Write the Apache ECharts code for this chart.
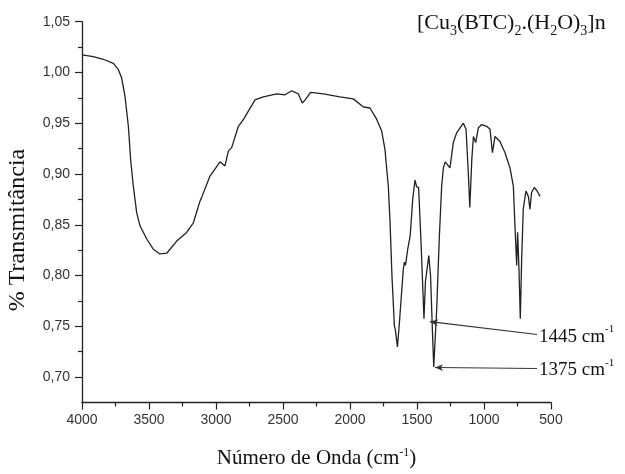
<!DOCTYPE html>
<html>
<head>
<meta charset="utf-8">
<script src="https://cdn.jsdelivr.net/npm/echarts@6/dist/echarts.min.js"></script>
<style>
html,body{margin:0;padding:0;background:#fff;}
#chart{width:625px;height:474px;}
</style>
</head>
<body>
<div id="chart"></div>
<script>
// Wavenumber (cm-1) and transmittance
const wavenumber = [4000,3916,3841,3766,3729,3704,3679,3654,3637,3617,3592,3567,3517,3468,3418,3368,3293,3219,3169,3119,3107,3045,2970,2933,2908,2883,2833,2796,2709,2647,2547,2485,2435,2386,2356,2336,2294,2199,2075,1975,1900,1851,1801,1763,1739,1726,1714,1701,1687,1669,1661,1646,1631,1602,1594,1586,1569,1551,1532,1515,1503,1488,1470,1448,1437,1412,1399,1382,1375,1353,1333,1316,1303,1290,1278,1254,1229,1204,1154,1134,1116,1106,1091,1079,1062,1042,1017,980,955,937,918,881,843,806,781,769,756,749,739,729,719,707,687,669,657,645,625,603,582];
const transmittance = [1.0174,1.0157,1.013,1.009,1.003,0.9945,0.9765,0.947,0.914,0.888,0.862,0.849,0.836,0.826,0.8213,0.822,0.834,0.8425,0.852,0.8735,0.877,0.898,0.912,0.908,0.9225,0.926,0.947,0.9536,0.973,0.976,0.979,0.978,0.982,0.979,0.970,0.9728,0.9804,0.979,0.976,0.974,0.966,0.965,0.954,0.942,0.924,0.905,0.888,0.852,0.800,0.751,0.746,0.7298,0.754,0.8066,0.8132,0.810,0.826,0.839,0.875,0.894,0.8876,0.8866,0.833,0.7576,0.794,0.8196,0.800,0.7347,0.710,0.7674,0.839,0.888,0.906,0.912,0.9128,0.906,0.931,0.9406,0.950,0.944,0.898,0.867,0.9144,0.937,0.931,0.9455,0.9487,0.947,0.944,0.921,0.937,0.932,0.921,0.906,0.888,0.849,0.810,0.8426,0.8066,0.7576,0.8164,0.8654,0.8833,0.878,0.8654,0.8818,0.8867,0.8833,0.878];

const yTickValues = [0.70,0.75,0.80,0.85,0.90,0.95,1.00,1.05];
const yMinorTickValues = [0.725,0.775,0.825,0.875,0.925,0.975,1.025];

// Annotations: label, arrow tip (data coords), line end (data coords)
const annotLabels = ['1445', '1375'];
const annotTips = [[1403, 0.7546], [1366, 0.7095]];
const annotEnds = [[604, 0.742], [604, 0.7085]];

const serif = '"Liberation Serif", "Times New Roman", serif';
const sans = '"Liberation Sans", Arial, sans-serif';

const seriesData = wavenumber.map((w, i) => [w, transmittance[i]]);

const markData = annotLabels.map((lab, i) => [
  { coord: annotTips[i], symbol: 'arrow', symbolSize: [5, 8] },
  { coord: annotEnds[i], symbol: 'none',
    label: { show: true, position: 'end', distance: 2,
      formatter: '{n|' + lab + ' cm}{s|-1}',
      rich: {
        n: { fontFamily: serif, fontSize: 19, color: '#111', lineHeight: 22, padding: [4, 0, 0, 0] },
        s: { fontFamily: serif, fontSize: 11, color: '#111', lineHeight: 12, verticalAlign: 'top' }
      }
    } }
]);

const chart = echarts.init(document.getElementById('chart'), null, { renderer: 'canvas' });
chart.setOption({
  animation: false,
  backgroundColor: '#fff',
  title: {
    left: 412, top: 4,
    text: '{n|[Cu}{b|3}{n|(BTC)}{b|2}{n|.(H}{b|2}{n|O)}{b|3}{n|]n}',
    textStyle: {
      fontWeight: 'normal',
      rich: {
        n: { fontFamily: serif, fontSize: 22, fontWeight: 'normal', color: '#111', lineHeight: 29 },
        b: { fontFamily: serif, fontSize: 14, fontWeight: 'normal', color: '#111', lineHeight: 14, verticalAlign: 'bottom' }
      }
    }
  },
  graphic: [{
    type: 'text', x: 18, y: 230, rotation: Math.PI / 2,
    style: { text: '% Transmitância', font: '24px "Liberation Serif", serif', fill: '#111',
      textAlign: 'center', textVerticalAlign: 'middle' }
  }],
  grid: { left: 82, right: 74, top: 21.7, bottom: 69.5, containLabel: false },
  xAxis: {
    type: 'value', min: 500, max: 4000, interval: 500, inverse: true,
    name: '{n|Número de Onda (cm}{s|-1}{n|)}',
    nameLocation: 'middle', nameGap: 44,
    nameTextStyle: {
      rich: {
        n: { fontFamily: serif, fontSize: 21, color: '#111', lineHeight: 24 },
        s: { fontFamily: serif, fontSize: 12, color: '#111', lineHeight: 14, verticalAlign: 'top' }
      }
    },
    axisLine: { show: true, onZero: false, lineStyle: { color: '#222', width: 1.3 } },
    axisTick: { show: true, inside: false, length: 7, lineStyle: { color: '#222', width: 1.2 } },
    minorTick: { show: true, splitNumber: 2, length: 4, lineStyle: { color: '#222', width: 1.2 } },
    axisLabel: { show: true, margin: 11, color: '#333', fontFamily: sans, fontSize: 14,
      formatter: v => String(v) },
    splitLine: { show: false }
  },
  yAxis: [{
    type: 'value', min: 0.675, max: 1.05,
    axisLine: { show: true, onZero: false, lineStyle: { color: '#222', width: 1.3 } },
    axisTick: { show: true, inside: false, length: 7, customValues: yTickValues, lineStyle: { color: '#222', width: 1.2 } },
    axisLabel: { show: true, margin: 12, color: '#333', fontFamily: sans, fontSize: 14,
      customValues: yTickValues,
      formatter: v => v.toFixed(2).replace('.', ',') },
    splitLine: { show: false }
  }, {
    type: 'value', min: 0.675, max: 1.05, position: 'left',
    axisLine: { show: false },
    axisTick: { show: true, inside: false, length: 4, customValues: yMinorTickValues, lineStyle: { color: '#222', width: 1.2 } },
    axisLabel: { show: false, customValues: yMinorTickValues },
    splitLine: { show: false }
  }],
  series: [{
    type: 'line',
    data: seriesData,
    xAxisIndex: 0, yAxisIndex: 0,
    showSymbol: false, symbol: 'none', smooth: false, clip: false,
    lineStyle: { color: '#222', width: 1.3 },
    markLine: {
      silent: true, animation: false,
      lineStyle: { color: '#333', width: 1.1, type: 'solid' },
      emphasis: { disabled: true },
      data: markData
    }
  }]
});
</script>
</body>
</html>
